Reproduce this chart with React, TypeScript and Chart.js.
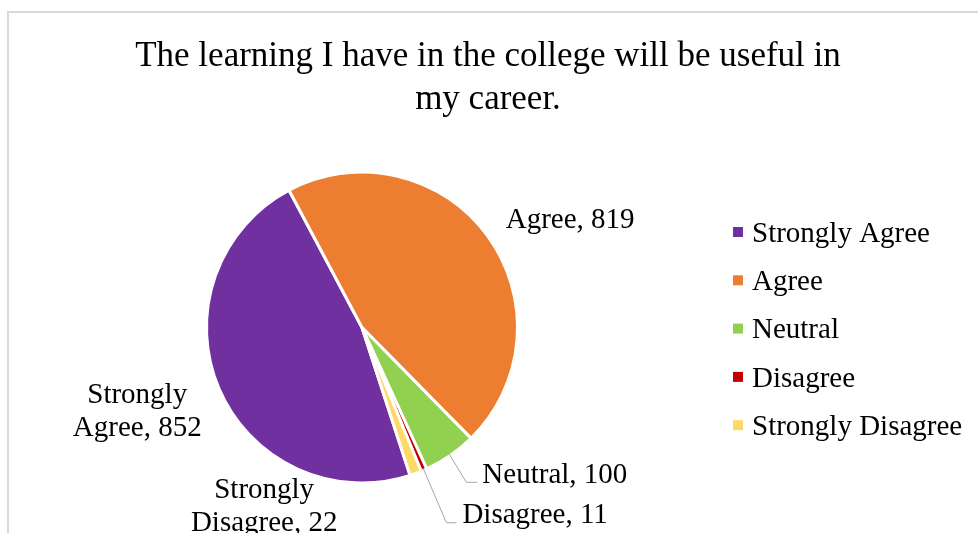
import React, { useEffect, useRef } from "react";
import { Chart, registerables } from "chart.js";

Chart.register(...registerables);

const titleLines = ["The learning I have in the college will be useful in", "my career."];
const categories = ["Strongly Agree", "Agree", "Neutral", "Disagree", "Strongly Disagree"];
const counts = [852, 819, 100, 11, 22];
const sliceColors = ["#7030A0", "#ED7D31", "#92D050", "#C00000", "#FFD966"];

const FONT = "'Liberation Serif', 'Times New Roman', serif";

function wrapText(ctx: CanvasRenderingContext2D, text: string, maxWidth: number): string[] {
  const words = text.split(" ");
  const lines: string[] = [];
  let cur = "";
  for (const w of words) {
    const test = cur ? cur + " " + w : w;
    if (ctx.measureText(test).width > maxWidth && cur) {
      lines.push(cur);
      cur = w;
    } else cur = test;
  }
  if (cur) lines.push(cur);
  return lines;
}

const decorPlugin = {
  id: "decor",
  beforeDraw(chart: any) {
    const ctx = chart.ctx as CanvasRenderingContext2D;
    ctx.save();
    ctx.fillStyle = "#ffffff";
    ctx.fillRect(0, 0, chart.width, chart.height);
    ctx.strokeStyle = "#d9d9d9";
    ctx.lineWidth = 2;
    ctx.beginPath();
    ctx.moveTo(8, chart.height + 10);
    ctx.lineTo(8, 12);
    ctx.lineTo(chart.width + 10, 12);
    ctx.stroke();
    ctx.restore();
  },
  afterDraw(chart: any) {
    const ctx = chart.ctx as CanvasRenderingContext2D;
    ctx.save();
    // Title
    ctx.fillStyle = "#000000";
    ctx.font = `35px ${FONT}`;
    ctx.textAlign = "center";
    ctx.textBaseline = "alphabetic";
    titleLines.forEach((t, i) => ctx.fillText(t, 488, 66 + i * 43));

    const tShift = 2;
    // Legend
    ctx.font = `29px ${FONT}`;
    ctx.textAlign = "left";
    ctx.textBaseline = "middle";
    categories.forEach((c, i) => {
      const cy = 232 + i * 48.3;
      ctx.fillStyle = sliceColors[i];
      ctx.fillRect(733, cy - 5, 10, 10);
      ctx.fillStyle = "#000000";
      ctx.fillText(c, 752, cy + tShift);
    });

    // Data labels
    const meta = chart.getDatasetMeta(0);
    const lh = 33;
    meta.data.forEach((arc: any, i: number) => {
      const mid = (arc.startAngle + arc.endAngle) / 2;
      const r = arc.outerRadius - 1.5;
      const px = arc.x + Math.cos(mid) * r;
      const py = arc.y + Math.sin(mid) * r;
      const text = `${categories[i]}, ${counts[i]}`;
      ctx.font = `29px ${FONT}`;
      ctx.fillStyle = "#000000";
      ctx.textBaseline = "middle";
      const lines = wrapText(ctx, text, 160);
      if (i === 2 || i === 3) {
        const lead = i === 2 ? { bx: 17, by: 28, ex: 28, tx: 33, ty: 19 } : { bx: 23, by: 54, ex: 33, tx: 39, ty: 45 };
        ctx.strokeStyle = "#a6a6a6";
        ctx.lineWidth = 1;
        ctx.beginPath();
        ctx.moveTo(px, py);
        ctx.lineTo(px + lead.bx, py + lead.by);
        ctx.lineTo(px + lead.ex, py + lead.by);
        ctx.stroke();
        ctx.textAlign = "left";
        lines.forEach((l, k) =>
          ctx.fillText(l, px + lead.tx, py + lead.ty + tShift + (k - (lines.length - 1) / 2) * lh)
        );
      } else {
        const off = i === 0 ? { dx: -83, dy: 22 } : i === 1 ? { dx: 84, dy: -18 } : { dx: -151, dy: 33 };
        ctx.textAlign = "center";
        lines.forEach((l, k) =>
          ctx.fillText(l, px + off.dx, py + off.dy + tShift + (k - (lines.length - 1) / 2) * lh)
        );
      }
    });
    ctx.restore();
  },
};

export default function App() {
  const canvasRef = useRef<HTMLCanvasElement | null>(null);
  useEffect(() => {
    const canvas = canvasRef.current;
    if (!canvas) return;
    const chart = new Chart(canvas, {
      type: "pie",
      data: {
        labels: categories,
        datasets: [
          {
            data: counts,
            backgroundColor: sliceColors,
            borderColor: "#ffffff",
            borderWidth: 3,
          },
        ],
      },
      options: {
        responsive: false,
        animation: false,
        devicePixelRatio: 1,
        events: [],
        rotation: 162,
        radius: 155.5,
        layout: { padding: { left: 208, right: 462, top: 174, bottom: 52 } },
        plugins: {
          legend: { display: false },
          title: { display: false },
          tooltip: { enabled: false },
        },
      },
      plugins: [decorPlugin],
    });
    return () => chart.destroy();
  }, []);
  return (
    <div style={{ position: "absolute", left: 0, top: 0, width: 978, height: 533 }}>
      <canvas ref={canvasRef} width={978} height={533} style={{ display: "block" }} />
    </div>
  );
}
